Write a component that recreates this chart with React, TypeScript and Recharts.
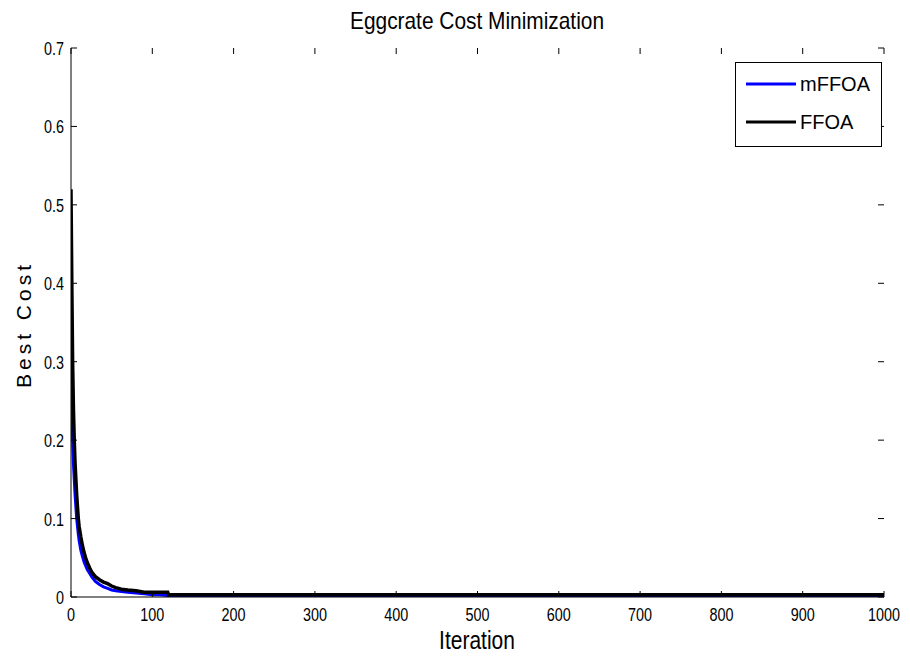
import React from 'react';
import { LineChart, Line, XAxis, YAxis, Legend } from 'recharts';

const iterations = [0, 1, 2, 3, 4, 5, 6, 7, 8, 9, 10, 12, 14, 16, 18, 20, 23, 26, 30, 35, 40, 45, 50, 55, 62, 70, 80, 90, 100, 110, 119, 120, 150, 200, 300, 400, 500, 600, 700, 800, 900, 1000];
const ffoa = [0.52, 0.4, 0.3, 0.24, 0.2, 0.17, 0.15, 0.13, 0.115, 0.1, 0.09, 0.077, 0.066, 0.057, 0.05, 0.044, 0.037, 0.031, 0.026, 0.022, 0.019, 0.017, 0.014, 0.012, 0.01, 0.009, 0.008, 0.006, 0.006, 0.006, 0.006, 0.003, 0.003, 0.003, 0.003, 0.003, 0.003, 0.003, 0.003, 0.003, 0.003, 0.003];
const mffoa = [0.3, 0.25, 0.2, 0.17, 0.15, 0.13, 0.115, 0.1, 0.09, 0.08, 0.072, 0.06, 0.052, 0.045, 0.04, 0.035, 0.03, 0.025, 0.02, 0.016, 0.013, 0.011, 0.009, 0.008, 0.007, 0.006, 0.005, 0.004, 0.003, 0.003, 0.002, 0.002, 0.002, 0.002, 0.002, 0.002, 0.002, 0.002, 0.002, 0.002, 0.002, 0.002];

const xTicks = [0, 100, 200, 300, 400, 500, 600, 700, 800, 900, 1000];
const yTicks = [0, 0.1, 0.2, 0.3, 0.4, 0.5, 0.6, 0.7];
const yTickLabels = ['0', '0.1', '0.2', '0.3', '0.4', '0.5', '0.6', '0.7'];

const seriesNames = ['mFFOA', 'FFOA'];
const seriesColors = ['#0000ff', '#000000'];

const data = iterations.map((it, i) => ({ iter: it, mFFOA: mffoa[i], FFOA: ffoa[i] }));

const W = 910;
const H = 663;
const PL = 71, PR = 884, PT = 48, PB = 597;
const FONT = '"Liberation Sans", Arial, Helvetica, sans-serif';
const SX = 0.8;

function NarrowText(props: { x: number; y: number; size: number; anchor: 'start' | 'middle' | 'end'; scale?: number; children: React.ReactNode }) {
  const s = props.scale ?? SX;
  return (
    <text
      transform={`translate(${props.x} ${props.y}) scale(${s} 1)`}
      x={0}
      y={0}
      textAnchor={props.anchor}
      fontFamily={FONT}
      fontSize={props.size}
      fill="#000"
    >
      {props.children}
    </text>
  );
}

function XTick(props: any) {
  const { x, payload } = props;
  return (
    <g>
      <line x1={x} x2={x} y1={PB} y2={PB - 6} stroke="#000" strokeWidth={1} />
      <line x1={x} x2={x} y1={PT} y2={PT + 6} stroke="#000" strokeWidth={1} />
      <NarrowText x={x} y={621} size={18} anchor="middle">{payload.value}</NarrowText>
    </g>
  );
}

function YTick(props: any) {
  const { y, payload, index } = props;
  return (
    <g>
      <line x1={PL} x2={PL + 6} y1={y} y2={y} stroke="#000" strokeWidth={1} />
      <line x1={PR} x2={PR - 6} y1={y} y2={y} stroke="#000" strokeWidth={1} />
      <NarrowText x={64} y={y + 7} size={18} anchor="end">{yTickLabels[index] ?? String(payload.value)}</NarrowText>
    </g>
  );
}

function LegendBox() {
  return (
    <div style={{ width: 147, height: 85, border: '1px solid #000', background: '#fff', boxSizing: 'border-box', position: 'relative' }}>
      {seriesNames.map((n, i) => (
        <div key={n} style={{ position: 'absolute', left: 10, top: 8 + i * 38, display: 'flex', alignItems: 'center', height: 26 }}>
          <svg width={50} height={6} style={{ display: 'block' }}>
            <line x1={0} x2={50} y1={3} y2={3} stroke={seriesColors[i]} strokeWidth={3} />
          </svg>
          <span style={{ fontFamily: FONT, fontSize: 20, marginLeft: 4, color: '#000', lineHeight: '26px' }}>{n}</span>
        </div>
      ))}
    </div>
  );
}

export default function App() {
  const cy = (PT + PB) / 2 + 2;
  return (
    <div style={{ position: 'absolute', left: 0, top: 0, width: W, height: H, background: '#fff' }}>
      <LineChart width={W} height={H} data={data} margin={{ top: PT, right: W - PR, bottom: 0, left: 0 }}>
        <NarrowText x={477} y={29} size={24} anchor="middle" scale={0.87}>Eggcrate Cost Minimization</NarrowText>
        <text
          x={31}
          y={cy}
          textAnchor="middle"
          fontFamily={FONT}
          fontSize={21}
          letterSpacing={4}
          fill="#000"
          transform={`rotate(-90 31 ${cy})`}
        >
          Best Cost
        </text>
        <NarrowText x={477} y={649} size={25} anchor="middle" scale={0.84}>Iteration</NarrowText>
        <XAxis dataKey="iter" type="number" domain={[0, 1000]} ticks={xTicks} interval={0} height={H - PB} axisLine={{ stroke: '#000' }} tickLine={false} tick={<XTick />} allowDataOverflow />
        <XAxis xAxisId="top" orientation="top" dataKey="iter" type="number" domain={[0, 1000]} height={0} axisLine={{ stroke: '#000' }} tickLine={false} tick={false} />
        <YAxis type="number" domain={[0, 0.7]} ticks={yTicks} interval={0} width={PL} axisLine={{ stroke: '#000' }} tickLine={false} tick={<YTick />} allowDataOverflow />
        <YAxis yAxisId="r" orientation="right" type="number" domain={[0, 0.7]} width={0} axisLine={{ stroke: '#000' }} tickLine={false} tick={false} />
        <Legend layout="vertical" align="center" verticalAlign="middle" wrapperStyle={{ left: 735, top: 62, width: 147, height: 85 }} content={() => <LegendBox />} />
        <Line dataKey="mFFOA" type="linear" stroke={seriesColors[0]} strokeWidth={3} dot={false} isAnimationActive={false} />
        <Line dataKey="FFOA" type="linear" stroke={seriesColors[1]} strokeWidth={3.5} dot={false} isAnimationActive={false} />
      </LineChart>
    </div>
  );
}
